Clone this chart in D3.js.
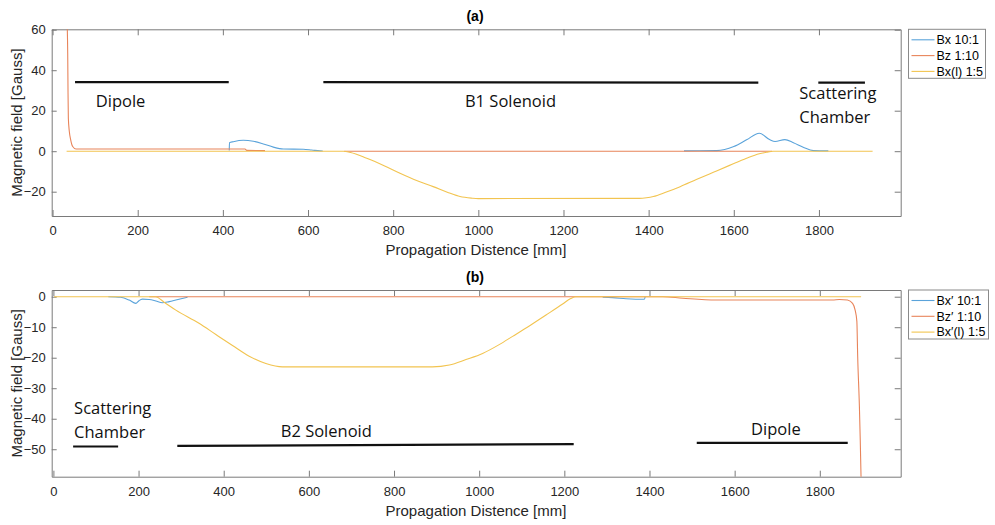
<!DOCTYPE html>
<html>
<head>
<meta charset="utf-8">
<script src="https://cdn.jsdelivr.net/npm/d3@7"></script>
<style>
  body { margin: 0; background: #fff; }
  svg { display: block; font-family: "Liberation Sans", Arial, sans-serif; }
  .axis text { font-size: 13px; fill: #262626; }
  .axis path, .axis line { stroke: #7a7a7a; stroke-width: 1; }
  .title { font-size: 14px; font-weight: bold; fill: #000; }
  .axis-label { font-size: 15px; fill: #262626; }
  .note { font-family: "Open Sans", "Noto Sans", sans-serif; font-size: 16.5px; fill: #111; }
  .legend text { font-size: 12.5px; fill: #000; }
</style>
</head>
<body>
<svg id="chart" width="995" height="525"></svg>
<script>
// ---- data ----
const xTicks = [0, 200, 400, 600, 800, 1000, 1200, 1400, 1600, 1800];
const yTicksA = [-20, 0, 20, 40, 60];
const yTicksB = [-50, -40, -30, -20, -10, 0];

const legendA = ['Bx 10:1', 'Bz 1:10', 'Bx(l) 1:5'];
const legendB = ['Bx\u2032 10:1', 'Bz\u2032 1:10', 'Bx\u2032(l) 1:5'];

// panel (a): [position mm, field Gauss], null = gap
const bxA = [[415, 0.3], [415.5, 4.2], [424.6, 4.7], [448, 5.4], [471.6, 4.9], [495, 3.6], [518.6, 2.0],
  [542, 1.1], [589, 1.0], [608.7, 0.6], [628, 0.15], [634.6, 0.1], null,
  [1483, 0.15], [1560, 0.3], [1600, 2.3], [1630, 5.6], [1660, 8.9], [1685, 5.6], [1697, 4.8],
  [1720, 5.7], [1740, 4.2], [1763, 2.0], [1787, 0.3], [1822, 0.15]];
const bzA = [[34.6, 61], [35.6, 48.4], [36.3, 30], [37.1, 16.3], [39.4, 9.7], [42.6, 5.6], [47.3, 2.3],
  [55, 1.1], [452, 1.1], [456, 0.4], [499, 0.3], null, [685, 0], [1690, 0]];
const bxlA = [[33, 0], [683, 0], [700, -0.6], [738, -3.5], [780, -7.3], [816, -10.9], [855, -14.5],
  [894, -17.5], [930, -20.5], [957, -22.4], [985, -23.2], [1000, -23.4], [1378, -23.3], [1395, -23.0],
  [1411, -22.4], [1440, -20.3], [1474, -17.5], [1512, -14], [1552, -10.4], [1590, -7], [1630, -3.5],
  [1660, -1.3], [1677, -0.5], [1692, 0], [1926, 0]];

// panel (b)
const bxB = [[129, 0], [158, -0.2], [178, -1.1], [193.6, -2.2], [201, -1.3], [209, -0.8], [225, -0.9],
  [240.6, -1.4], [256, -2.0], [272, -1.6], [287.6, -1.1], [315, -0.2], null,
  [1290, -0.2], [1313, -0.3], [1345, -0.65], [1388, -0.85], [1390, 0]];
const bzB = [[225, 0], [1431, 0], [1478, -0.5], [1556, -1.1], [1830, -1.1], [1846, -0.9], [1865, -1.1],
  [1877, -2.2], [1883, -4.4], [1887, -8], [1889, -19.7], [1893, -36], [1895, -47], [1897, -60]];
const bxlB = [[1.6, 0], [240, 0], [260, -1.8], [287.6, -4.4], [342, -8.7], [381.6, -12.4], [420.6, -16.0],
  [459.8, -19.5], [499, -21.9], [538, -23], [890, -23], [930, -22.4], [969, -20.6], [1008, -18.6],
  [1047, -15.7], [1078.5, -13.0], [1117.7, -9.6], [1157, -6.0], [1196, -2.4], [1215, -0.6], [1227, 0],
  [1897, 0]];

// region markers: [from mm, to mm, Gauss at start, Gauss at end]
const barsA = [[52.8, 413.8, 34.1, 34.1], [636, 1657.6, 34.1, 33.9], [1798.5, 1908, 33.9, 33.9]];
const barsB = [[46.3, 152, -49.1, -49.1], [291, 1222, -48.9, -48.3], [1511, 1865.6, -47.9, -47.9]];
// region names: [text, mm, Gauss of baseline]
const notesA = [['Dipole', 101.5, 22], ['B1 Solenoid', 968.6, 22], ['Scattering', 1753.8, 25.8], ['Chamber', 1753.8, 14.1]];
const notesB = [['Scattering', 48.6, -38.5], ['Chamber', 48.6, -46.2], ['B2 Solenoid', 534, -45.9], ['Dipole', 1638.6, -45.3]];

const colors = ['#5aa3da', '#e8845a', '#f2c450'];

const svg = d3.select('#chart');

function drawPanel(cfg) {
  const left = 51.7, right = 900.7;
  const g = svg.append('g');

  const x = d3.scaleLinear().domain(cfg.xDomain).range([left, right]);
  const y = d3.scaleLinear().domain(cfg.yDomain).range([cfg.bottom, cfg.top]);

  const clipId = 'clip-' + cfg.name;
  svg.append('clipPath').attr('id', clipId)
    .append('rect')
    .attr('x', left).attr('y', cfg.top)
    .attr('width', right - left).attr('height', cfg.bottom - cfg.top);

  // box with inward ticks on all four sides
  g.append('g').attr('class', 'axis')
    .attr('transform', `translate(0,${cfg.bottom})`)
    .call(d3.axisBottom(x).tickValues(xTicks).tickFormat(d3.format('d'))
      .tickSizeInner(-6).tickSizeOuter(0).tickPadding(10));
  g.append('g').attr('class', 'axis')
    .attr('transform', `translate(0,${cfg.top})`)
    .call(d3.axisTop(x).tickValues(xTicks).tickSizeInner(-6).tickSizeOuter(0).tickFormat(''));
  g.append('g').attr('class', 'axis')
    .attr('transform', `translate(${left},0)`)
    .call(d3.axisLeft(y).tickValues(cfg.yTicks).tickSizeInner(-5).tickSizeOuter(0).tickPadding(6));
  g.append('g').attr('class', 'axis')
    .attr('transform', `translate(${right},0)`)
    .call(d3.axisRight(y).tickValues(cfg.yTicks).tickSizeInner(-6).tickSizeOuter(0).tickFormat(''));

  const line = d3.line()
    .defined(d => d !== null)
    .x(d => x(d[0]))
    .y(d => y(d[1]))
    .curve(d3.curveMonotoneX);

  const plot = g.append('g').attr('clip-path', `url(#${clipId})`);
  cfg.series.forEach((s, i) => {
    plot.append('path')
      .attr('d', line(s))
      .attr('fill', 'none')
      .attr('stroke', colors[i])
      .attr('stroke-width', 1.1);
  });

  // region markers
  g.selectAll('.bar')
    .data(cfg.bars)
    .join('line')
      .attr('class', 'bar')
      .attr('x1', d => x(d[0]))
      .attr('x2', d => x(d[1]))
      .attr('y1', d => y(d[2]))
      .attr('y2', d => y(d[3]))
      .attr('stroke', '#111')
      .attr('stroke-width', 2.2);

  g.selectAll('.note')
    .data(cfg.notes)
    .join('text')
      .attr('class', 'note')
      .attr('x', d => x(d[1]))
      .attr('y', d => y(d[2]))
      .text(d => d[0]);

  // titles
  g.append('text').attr('class', 'title')
    .attr('x', 475).attr('y', cfg.top - 8)
    .attr('text-anchor', 'middle')
    .text(cfg.title);
  g.append('text').attr('class', 'axis-label')
    .attr('x', 476).attr('y', cfg.bottom + 39)
    .attr('text-anchor', 'middle')
    .text('Propagation Distence [mm]');
  g.append('text').attr('class', 'axis-label')
    .attr('transform', `translate(22,${(cfg.top + cfg.bottom) / 2}) rotate(-90)`)
    .attr('text-anchor', 'middle')
    .text('Magnetic field [Gauss]');

  // legend
  const lg = g.append('g').attr('class', 'legend')
    .attr('transform', `translate(908.5,${cfg.top})`);
  lg.append('rect')
    .attr('width', cfg.legendW).attr('height', 49)
    .attr('fill', '#fff').attr('stroke', '#8a8a8a');
  cfg.labels.forEach((lab, i) => {
    const ly = 10.5 + i * 15.8;
    lg.append('line')
      .attr('x1', 3).attr('x2', 26)
      .attr('y1', ly).attr('y2', ly)
      .attr('stroke', colors[i]).attr('stroke-width', 1.1);
    lg.append('text')
      .attr('x', 28).attr('y', ly).attr('dy', '0.35em')
      .text(lab);
  });
}

drawPanel({
  name: 'a', title: '(a)', top: 29.3, bottom: 216,
  xDomain: [-2, 1992], yDomain: [-32, 60.2], yTicks: yTicksA,
  series: [bxA, bzA, bxlA], bars: barsA, notes: notesA,
  labels: legendA, legendW: 77
});

drawPanel({
  name: 'b', title: '(b)', top: 290, bottom: 476.7,
  xDomain: [-4, 1990], yDomain: [-59, 2.2], yTicks: yTicksB,
  series: [bxB, bzB, bxlB], bars: barsB, notes: notesB,
  labels: legendB, legendW: 80
});
</script>
</body>
</html>
